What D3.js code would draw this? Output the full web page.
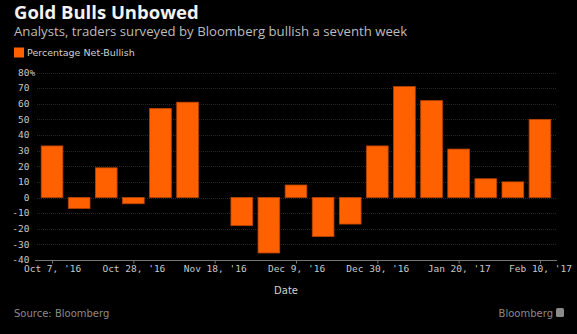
<!DOCTYPE html>
<html>
<head>
<meta charset="utf-8">
<script src="https://cdn.jsdelivr.net/npm/d3@7"></script>
<style>
  html, body { margin: 0; padding: 0; background: #000; }
  svg { display: block; }
</style>
</head>
<body>
<svg id="chart" width="577" height="334"></svg>
<script>
// ---- data ----
const dates = ["2016-10-07","2016-10-14","2016-10-21","2016-10-28","2016-11-04","2016-11-11",
               "2016-11-25","2016-12-02","2016-12-09","2016-12-16","2016-12-23","2016-12-30",
               "2017-01-06","2017-01-13","2017-01-20","2017-01-27","2017-02-03","2017-02-10"];
const netBullish = [33, -7, 19, -4, 57, 61, -18, -35.5, 8, -25, -17, 33, 71, 62, 31, 12, 10, 50];
const xTickDates = ["2016-10-07","2016-10-28","2016-11-18","2016-12-09","2016-12-30","2017-01-20","2017-02-10"];
const xTickLabels = ["Oct 7, '16","Oct 28, '16","Nov 18, '16","Dec 9, '16","Dec 30, '16","Jan 20, '17","Feb 10, '17"];
const yTicks = [-40, -30, -20, -10, 0, 10, 20, 30, 40, 50, 60, 70, 80];
const title = "Gold Bulls Unbowed";
const subtitle = "Analysts, traders surveyed by Bloomberg bullish a seventh week";
const seriesName = "Percentage Net-Bullish";

const parse = d3.utcParse("%Y-%m-%d");
const svg = d3.select("#chart");
const DAY = 86400000;
const orange = "#ff6000";
const mono = "'DejaVu Sans Mono', monospace";
const sans = "'DejaVu Sans', sans-serif";

svg.append("rect").attr("width", 577).attr("height", 334).attr("fill", "#000");

const x0 = parse(dates[0]), x1 = parse(dates[dates.length - 1]);
const x = d3.scaleUtc()
  .domain([new Date(+x0 - 4.4 * DAY), new Date(+x1 + 4.4 * DAY)])
  .range([35, 557]);
const y = d3.scaleLinear().domain([-40, 80]).range([260, 72.5]);
const barW = (x(parse("2016-10-14")) - x(x0)) * 0.8;

// gridlines
svg.append("g").selectAll("line").data(yTicks.filter(t => t !== -40)).join("line")
  .attr("x1", 37).attr("x2", 557)
  .attr("y1", d => Math.round(y(d)) + 0.5).attr("y2", d => Math.round(y(d)) + 0.5)
  .attr("stroke", "#262626").attr("stroke-width", 1).attr("stroke-dasharray", "1,1");

// y labels
const yl = svg.append("g").attr("font-family", mono).attr("font-size", 9.5).attr("fill", "#c8c8c8");
yl.selectAll("text").data(yTicks).join("text")
  .attr("x", 29.5).attr("y", d => y(d)).attr("dy", "0.35em")
  .attr("text-anchor", "end").text(d => d);
yl.append("text").attr("x", 29.5).attr("y", y(80)).attr("dy", "0.35em").text("%");

// bars
svg.append("g").selectAll("rect").data(dates.map((d, i) => ({ d: parse(d), v: netBullish[i] }))).join("rect")
  .attr("x", d => x(d.d) - barW / 2)
  .attr("width", barW)
  .attr("y", d => Math.min(y(d.v), y(0)))
  .attr("height", d => Math.abs(y(d.v) - y(0)))
  .attr("fill", orange).attr("stroke", "#b84400").attr("stroke-width", 0.8);

// x axis
const xAxis = d3.axisBottom(x)
  .tickValues(xTickDates.map(parse))
  .tickFormat((d, i) => xTickLabels[i])
  .tickSize(3).tickSizeOuter(0);
const gx = svg.append("g").attr("transform", `translate(0,${y(-40) + 0.5})`).call(xAxis);
gx.select(".domain").attr("stroke", "#777").attr("d", `M35,0H557`);
gx.selectAll(".tick line").attr("stroke", "#777").attr("y1", 0).attr("y2", 3);
gx.selectAll(".tick text").attr("font-family", mono).attr("font-size", 9.5)
  .attr("fill", "#c8c8c8").attr("y", 5).attr("dy", "0.71em");

// axis title
svg.append("text").attr("x", 286).attr("y", 294).attr("text-anchor", "middle")
  .attr("font-family", sans).attr("font-size", 10).attr("fill", "#d0d0d0").text("Date");

// title & subtitle
svg.append("text").attr("x", 14).attr("y", 19).attr("font-family", "'Open Sans', sans-serif")
  .attr("font-weight", "bold").attr("font-size", 18.5).attr("fill", "#f2f2f2").text(title);
svg.append("text").attr("x", 14).attr("y", 36).attr("font-family", "'Open Sans', sans-serif")
  .attr("font-size", 13.2).attr("fill", "#bdbdbd").text(subtitle);

// legend
svg.append("rect").attr("x", 14).attr("y", 47.5).attr("width", 10).attr("height", 10).attr("fill", orange);
svg.append("text").attr("x", 27).attr("y", 52.5).attr("dy", "0.35em")
  .attr("font-family", sans).attr("font-size", 9.5).attr("fill", "#d0d0d0").text(seriesName);

// source & logo
svg.append("text").attr("x", 14).attr("y", 317).attr("font-family", sans)
  .attr("font-size", 10).attr("fill", "#8a8a8a").text("Source: Bloomberg");
svg.append("text").attr("x", 553).attr("y", 317).attr("text-anchor", "end").attr("font-family", sans)
  .attr("font-size", 10).attr("fill", "#8a8a8a").text("Bloomberg");
svg.append("rect").attr("x", 556).attr("y", 308).attr("width", 8).attr("height", 9).attr("rx", 1.5).attr("fill", "#8a8a8a");
</script>
</body>
</html>
